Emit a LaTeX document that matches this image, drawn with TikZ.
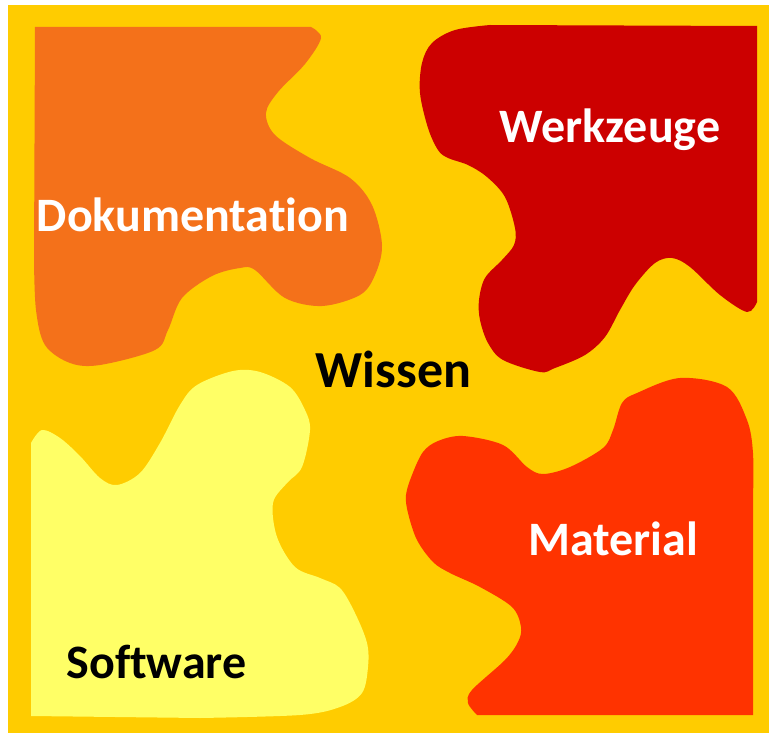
\documentclass[tikz,border=0pt]{standalone}
\usepackage{fontspec}
\setmainfont{Carlito}[Ligatures=NoCommon]
\definecolor{bgyellow}{HTML}{FFCC00}
\definecolor{docorange}{HTML}{F4711A}
\definecolor{toolred}{HTML}{CC0000}
\definecolor{matred}{HTML}{FF3300}
\definecolor{softyellow}{HTML}{FFFF66}
\tikzset{
  label/.style={anchor=base, font=\bfseries\fontsize{48}{52}\selectfont, inner sep=0pt},
  centrelabel/.style={label, font=\bfseries\fontsize{52}{56}\selectfont},
  piece/.style={smooth, tension=0.55}
}
\begin{document}
\begin{tikzpicture}[x=1pt, y=-1pt]
\useasboundingbox (0,0) rectangle (769,733);
\fill[white] (0,0) rectangle (769,733);
\fill[bgyellow] (8,5) rectangle (769,733);

% Dokumentation piece
\fill[docorange] (35,27) -- (311,27) -- plot[piece] coordinates {
  (311,27) (321,38) (305,64) (278,92) (266,113) (275,135) (310,158)
  (350,178) (372,205) (382,245) (375,275) (360,295) (322,306) (285,298)
  (255,270) (240,268) (212,276) (182,298) (168,330) (155,350) (100,365)
  (70,363) (45,345) (36,310) (34,260)} -- cycle;

% Werkzeuge piece
\fill[toolred] (490,25) -- (757,26) -- (757,302) -- plot[piece] coordinates {
  (757,302) (747,312) (720,295) (690,267) (672,258) (655,263) (635,285)
  (620,310) (605,337) (585,355) (555,368) (540,372) (503,360) (488,343)
  (480,320) (479,300) (485,278) (502,260) (514,245) (515,228) (505,197)
  (487,177) (468,165) (448,158) (438,150) (428,128) (420,93) (422,63)
  (432,43) (455,30) (490,25)} -- cycle;

% Material piece
\fill[matred] (753,715) -- (477,715) -- plot[piece] coordinates {
  (477,715) (468,703) (472,690) (505,660) (518,642) (521,627) (512,607)
  (480,587) (450,573) (433,562) (417,540) (408,513) (406,495) (412,475)
  (423,452) (438,441) (463,436) (503,445) (527,467) (543,474) (570,467)
  (603,448) (613,430) (622,403) (637,393) (680,378) (727,387) (747,420)
  (753,453) (753,500)} -- cycle;

% Software piece
\fill[softyellow] (31,716) -- (31,443) -- plot[piece] coordinates {
  (31,443) (42,430) (60,438) (80,456) (100,478) (117,485) (140,473)
  (160,443) (180,405) (197,385) (233,371) (260,372) (290,387) (305,410)
  (310,430) (302,467) (287,483) (273,503) (277,537) (295,567) (320,578)
  (340,588) (355,613) (367,643) (368,667) (362,693) (340,707) (300,715)
  (200,718)} -- cycle;

% Labels
\node[label, text=white] (doku) at (193,232) {Dokumentation};
\node[label, text=white] (werk) at (610,143) {Werkzeuge};
\node[label, text=white] (mat) at (613,555) {Material};
\node[label, text=black] (soft) at (156.5,678) {Software};
\node[centrelabel, text=black] (wissen) at (393.5,387) {Wissen};
\end{tikzpicture}
\end{document}
